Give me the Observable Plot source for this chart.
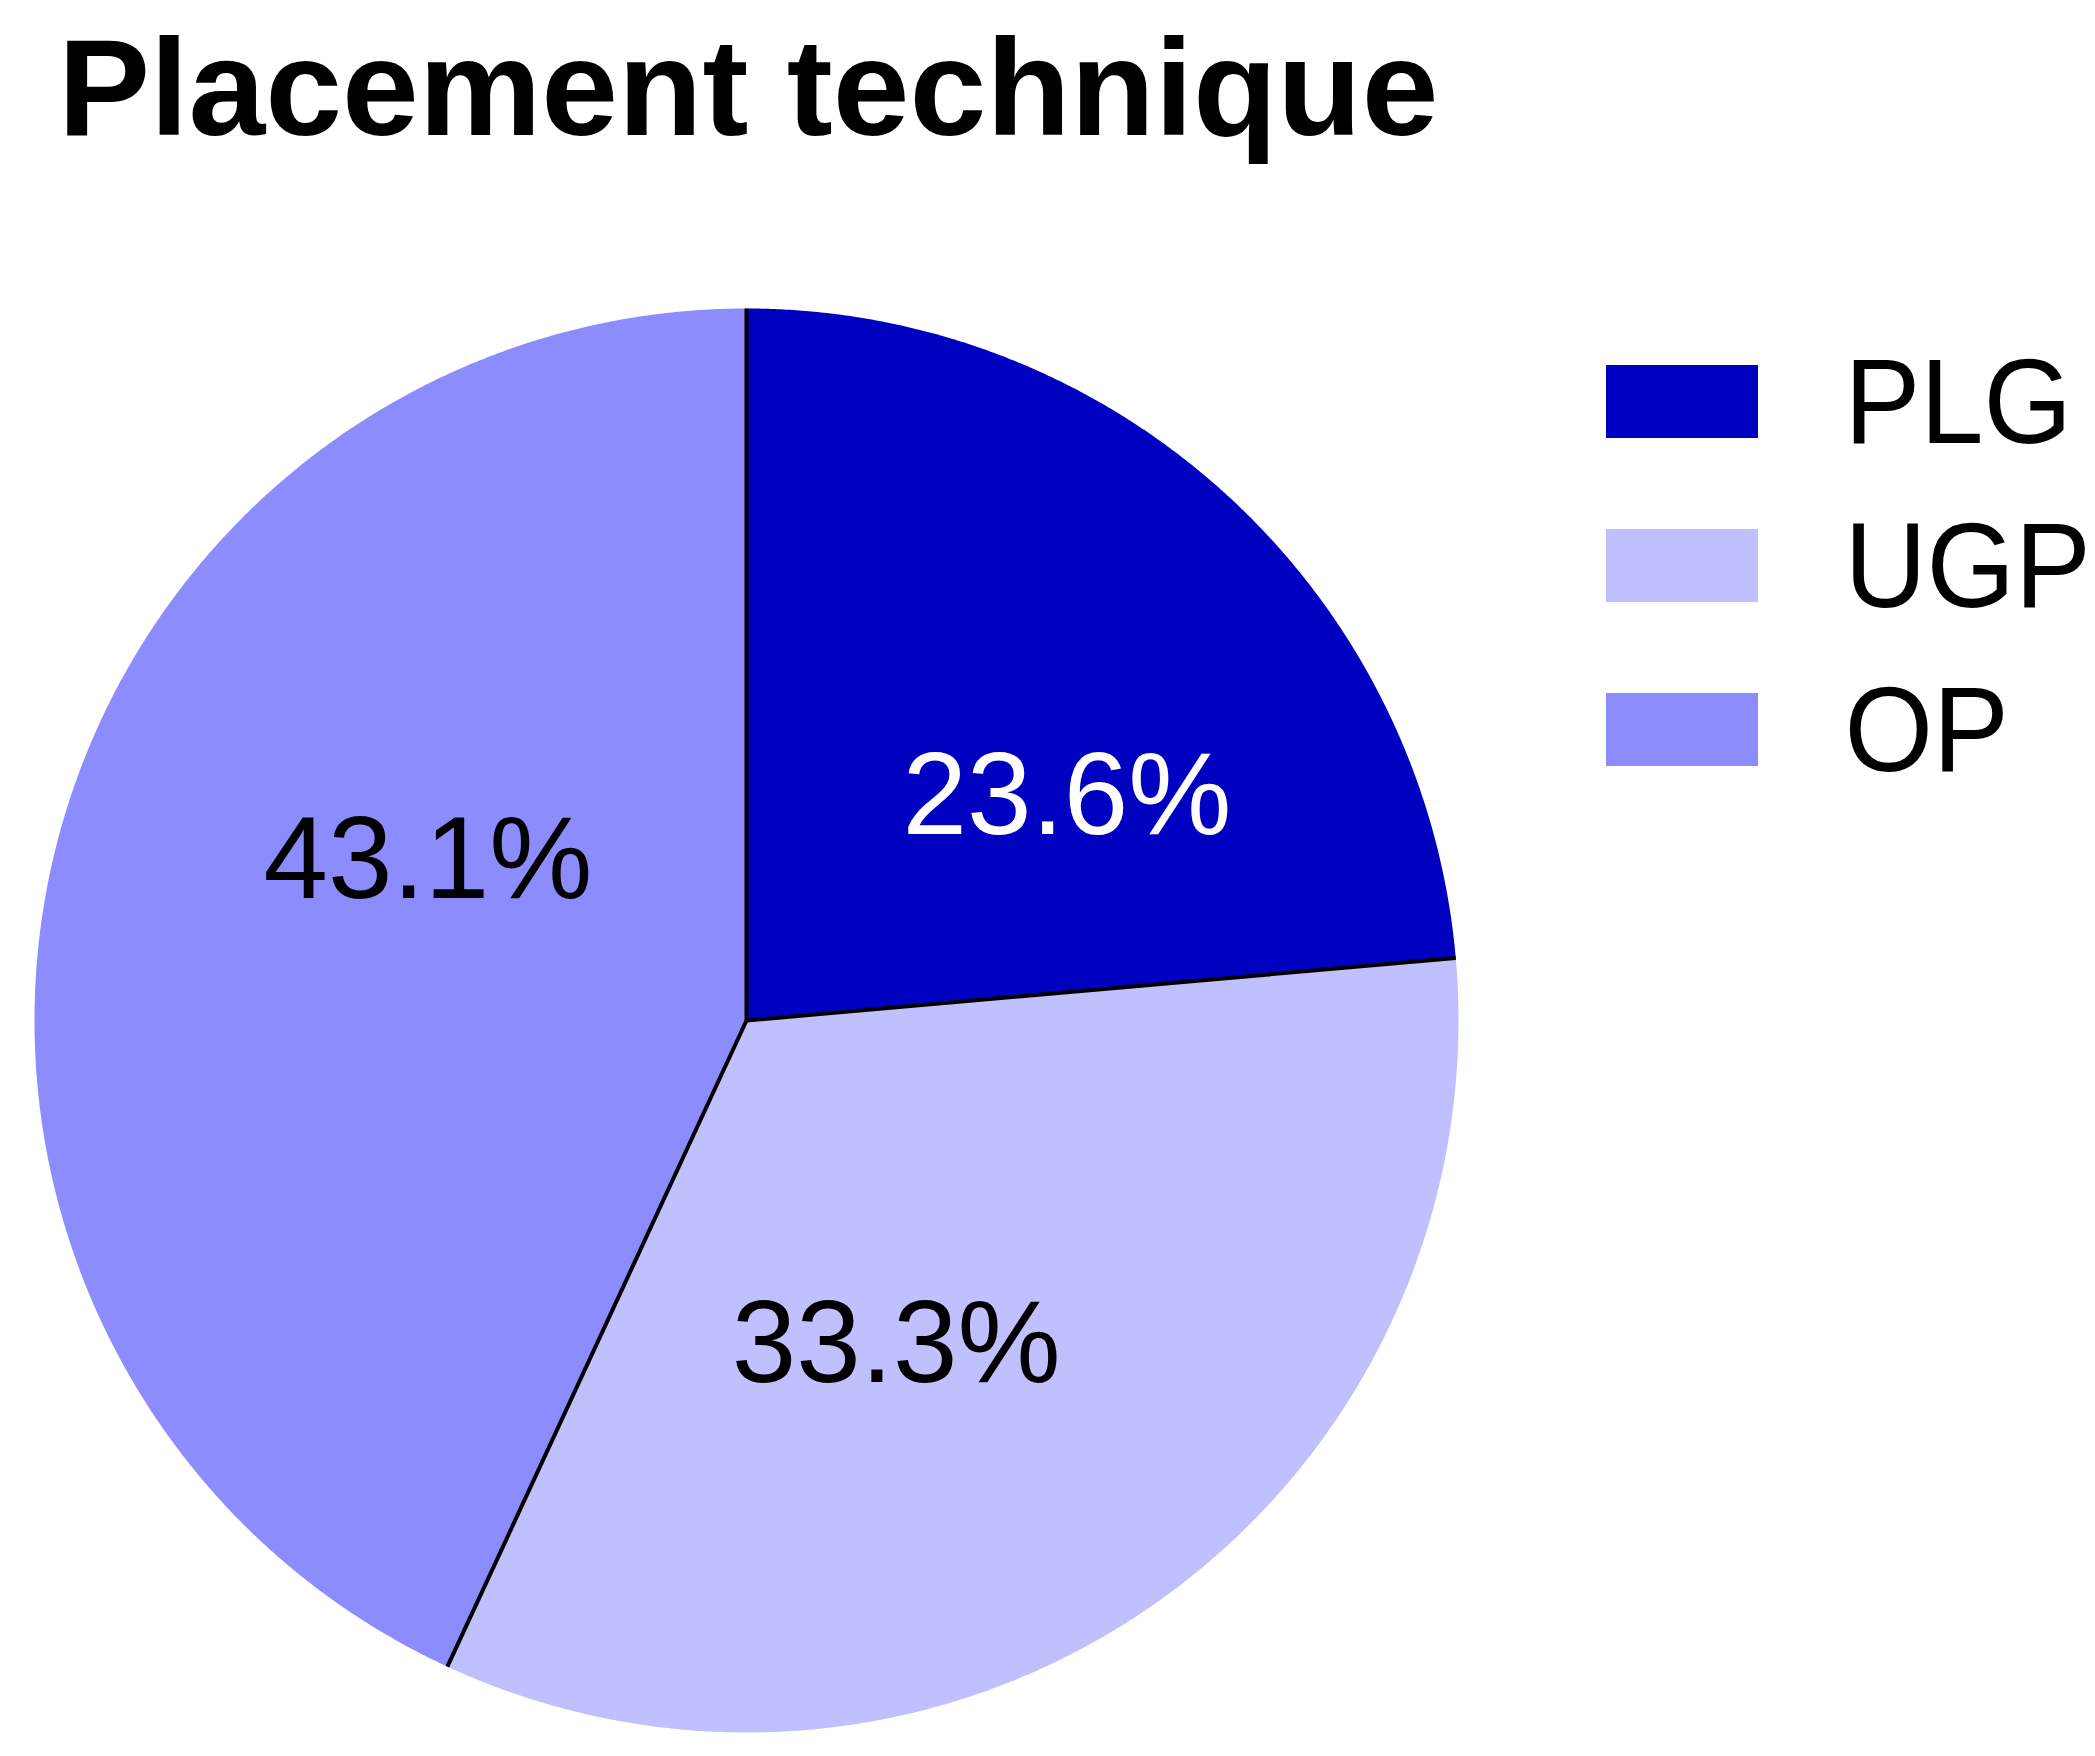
<!DOCTYPE html>
<html>
<head>
<meta charset="utf-8">
<script src="https://cdn.jsdelivr.net/npm/d3@7"></script>
<script src="https://cdn.jsdelivr.net/npm/@observablehq/plot@0.6"></script>
<style>
  html, body { margin: 0; padding: 0; background: #ffffff; }
  #wrap { width: 2095px; position: relative; }
  #title { height: 170px; position: relative; }
  #title span {
    position: absolute; left: 58px; top: 18px;
    font-family: "Liberation Sans", Arial, sans-serif; font-weight: bold;
    font-size: 138px; line-height: 1; color: #000; white-space: nowrap;
  }
  #chart svg { display: block; }
</style>
</head>
<body>
<div id="wrap">
  <div id="title"><span></span></div>
  <div id="chart"></div>
</div>
<script>
// ---- data ----
const title = "Placement technique";
const categories = ["PLG", "UGP", "OP"];
const percents = [23.6, 33.3, 43.1];
const colors = ["#0000C0", "#C0C0FF", "#8C8CFF"];
const labelColors = ["#ffffff", "#000000", "#000000"];

document.querySelector("#title span").textContent = title;

// ---- layout ----
const W = 2095, H = 1586;
const cx = 746, cy = 850, R = 712;
const px2x = px => (px - cx) / R;
const py2y = py => (cy - py) / R;
const font = "Liberation Sans, Arial, sans-serif";
const legendTextX = 1844, condense = 0.94;

const arcs = d3.pie().sort(null).value(d => d)(percents);

// polygon points of each slice in unit coordinates (angle clockwise from 12 o'clock)
function slicePoints(a) {
  const pts = [{x: 0, y: 0}];
  const step = Math.PI / 720;
  const n = Math.max(2, Math.ceil((a.endAngle - a.startAngle) / step));
  for (let k = 0; k <= n; k++) {
    const t = a.startAngle + (a.endAngle - a.startAngle) * k / n;
    pts.push({x: Math.sin(t), y: Math.cos(t)});
  }
  pts.push({x: 0, y: 0});
  return pts;
}

const sliceMarks = arcs.map((a, i) =>
  Plot.line(slicePoints(a), {x: "x", y: "y", fill: colors[i], stroke: "none", curve: "linear"})
);

const dividers = Plot.link(arcs, {
  x1: d => 0, y1: d => 0,
  x2: d => Math.sin(d.startAngle), y2: d => Math.cos(d.startAngle),
  stroke: "#000", strokeWidth: 4
});

// percentage labels near each slice's mid-angle
const nudges = [[80, 39], [-55, 33], [29, -83]];
const labelMarks = arcs.map((a, i) => {
  const mid = (a.startAngle + a.endAngle) / 2;
  return Plot.text([a], {
    x: d => 0.5 * Math.sin(mid), y: d => 0.5 * Math.cos(mid),
    text: d => d.data.toFixed(1) + "%",
    dx: nudges[i][0], dy: nudges[i][1],
    fill: labelColors[i], fontSize: 116, fontFamily: font,
    textAnchor: "middle", lineAnchor: "middle"
  });
});

// legend
const legendRows = categories.map((c, i) => ({c, i}));
const legendText = Plot.text(legendRows, {
  x: d => px2x(legendTextX), y: d => py2y(272 + 164 * d.i),
  text: d => d.c, textAnchor: "start", lineAnchor: "bottom",
  fill: "#000", fontSize: 121, fontFamily: font
});

const chart = Plot.plot({
  width: W, height: H,
  margin: 0,
  x: {domain: [-1, 1], range: [cx - R, cx + R], axis: null},
  y: {domain: [-1, 1], range: [cy + R, cy - R], axis: null},
  color: {type: "categorical", domain: categories, range: colors},
  style: {background: "#ffffff", overflow: "visible"},
  marks: [
    ...sliceMarks,
    dividers,
    ...labelMarks,
    Plot.rect(legendRows, {
      x1: d => px2x(1606), x2: d => px2x(1758),
      y1: d => py2y(195 + 164 * d.i), y2: d => py2y(268 + 164 * d.i),
      fill: d => categories[d.i]
    }),
    legendText
  ]
});
document.getElementById("chart").appendChild(chart);

// legend labels are slightly condensed in the reference: wrap their group in a scaleX
const legendTexts = Array.from(chart.querySelectorAll("text")).filter(t => categories.includes(t.textContent));
if (legendTexts.length) {
  const g = legendTexts[0].parentNode;
  const wrapper = document.createElementNS("http://www.w3.org/2000/svg", "g");
  g.parentNode.insertBefore(wrapper, g);
  wrapper.appendChild(g);
  wrapper.setAttribute("transform", `translate(${legendTextX * (1 - condense)},0) scale(${condense},1)`);
}
</script>
</body>
</html>
